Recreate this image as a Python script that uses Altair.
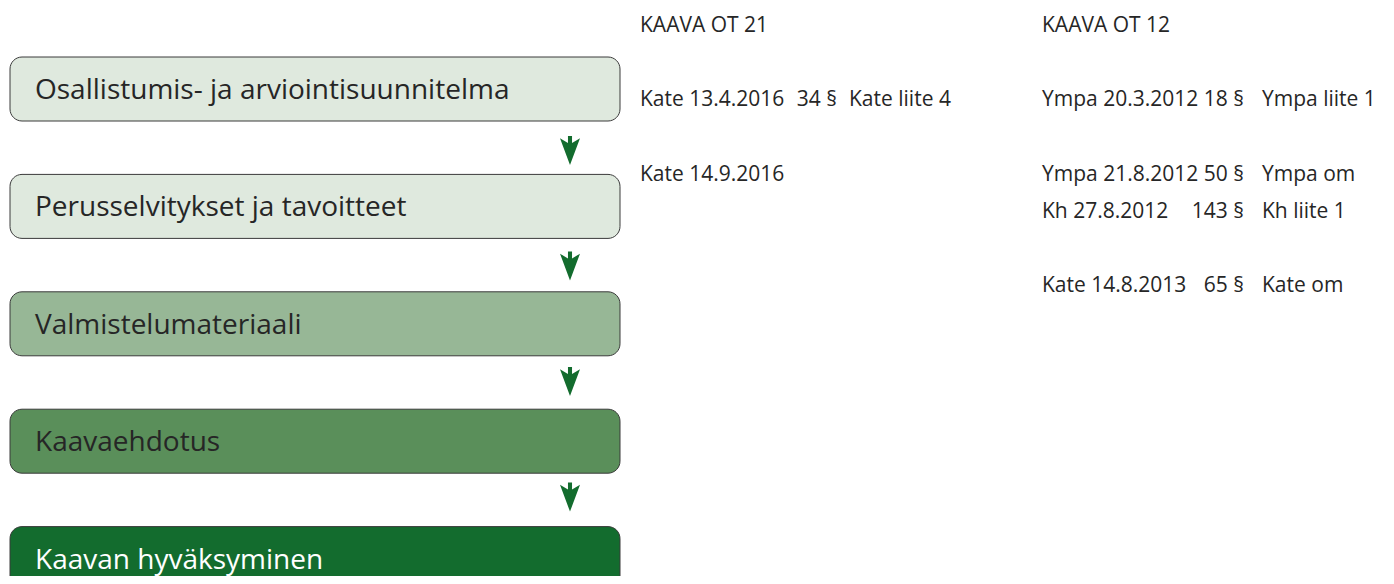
import altair as alt
import pandas as pd

# ---- data -------------------------------------------------------------
steps = [
    "Osallistumis- ja arviointisuunnitelma",
    "Perusselvitykset ja tavoitteet",
    "Valmistelumateriaali",
    "Kaavaehdotus",
    "Kaavan hyväksyminen",
]
step_fills = ["#dfe9de", "#dfe9de", "#97b796", "#5a8f5a", "#136c2e"]
step_text_colors = ["#262626", "#262626", "#262626", "#262626", "#ffffff"]

plans = ["KAAVA OT 21", "KAAVA OT 12"]

entry_plan = ["KAAVA OT 21", "KAAVA OT 21", "KAAVA OT 12", "KAAVA OT 12", "KAAVA OT 12", "KAAVA OT 12"]
entry_line = [2, 4, 2, 4, 5, 7]
entry_meeting = ["Kate 13.4.2016", "Kate 14.9.2016", "Ympa 20.3.2012", "Ympa 21.8.2012", "Kh 27.8.2012", "Kate 14.8.2013"]
entry_section = ["34 §", "", "18 §", "50 §", "143 §", "65 §"]
entry_note = ["Kate liite 4", "", "Ympa liite 1", "Ympa om", "Kh liite 1", "Kate om"]

# ---- tables -----------------------------------------------------------
steps_df = pd.DataFrame({"step": steps, "i": range(len(steps))})
arrows_df = pd.DataFrame({"i": list(range(len(steps) - 1))})
plans_df = pd.DataFrame({"plan": plans, "col": range(len(plans))})
entries_df = pd.DataFrame({
    "plan": entry_plan,
    "line": entry_line,
    "meeting": entry_meeting,
    "section": entry_section,
    "note": entry_note,
})
entries_df["col"] = [plans.index(p) for p in entry_plan]

W, H = 1378, 568
FONT = "Open Sans"
SMALL = 21

xs = alt.Scale(domain=[8, 8 + W])
ys = alt.Scale(domain=[8, 8 + H], reverse=True)
X = lambda f: alt.X(f, type="quantitative", scale=xs, axis=None)
Y = lambda f: alt.Y(f, type="quantitative", scale=ys, axis=None)

base_steps = alt.Chart(steps_df).transform_calculate(
    cy="89 + 117.4 * datum.i",
    y0="89 + 117.4 * datum.i - 32",
    y1="89 + 117.4 * datum.i + 32",
    x0="10",
    x1="620",
    tx="35",
)

boxes = base_steps.mark_rect(
    cornerRadius=12, stroke="#3a3a3a", strokeWidth=1
).encode(
    x=X("x0:Q"), x2="x1:Q", y=Y("y0:Q"), y2="y1:Q",
    color=alt.Color("step:N", scale=alt.Scale(domain=steps, range=step_fills), legend=None),
)

box_text = base_steps.mark_text(
    align="left", baseline="middle", font=FONT, fontSize=28, dy=2
).encode(
    x=X("tx:Q"), y=Y("cy:Q"), text="step:N",
    fill=alt.Fill("step:N", scale=alt.Scale(domain=steps, range=step_text_colors), legend=None),
)

arrow_path = "M0,1 L-0.69,-0.86 L-0.14,-0.52 L-0.14,-1 L0.14,-1 L0.14,-0.52 L0.69,-0.86 Z"
arrows = alt.Chart(arrows_df).transform_calculate(
    ay="150.6 + 115.5 * datum.i", ax="570"
).mark_point(
    shape=arrow_path, filled=True, size=841, color="#136c2e", opacity=1, strokeWidth=0
).encode(x=X("ax:Q"), y=Y("ay:Q"))

headers = alt.Chart(plans_df).transform_calculate(
    hx="640 + 402 * datum.col", hy="24"
).mark_text(
    align="left", baseline="middle", font=FONT, fontSize=SMALL, color="#262626", dy=2
).encode(x=X("hx:Q"), y=Y("hy:Q"), text="plan:N")

base_entries = alt.Chart(entries_df).transform_calculate(
    ey="24 + 37.2 * datum.line",
    mx="640 + 402 * datum.col",
    sx="837 + 407 * datum.col",
    nx="849 + 413 * datum.col",
)
meet = base_entries.mark_text(
    align="left", baseline="middle", font=FONT, fontSize=SMALL, color="#262626", dy=2
).encode(x=X("mx:Q"), y=Y("ey:Q"), text="meeting:N")
sect = base_entries.mark_text(
    align="right", baseline="middle", font=FONT, fontSize=SMALL, color="#262626", dy=2
).encode(x=X("sx:Q"), y=Y("ey:Q"), text="section:N")
note = base_entries.mark_text(
    align="left", baseline="middle", font=FONT, fontSize=SMALL, color="#262626", dy=2
).encode(x=X("nx:Q"), y=Y("ey:Q"), text="note:N")

chart = alt.layer(boxes, box_text, arrows, headers, meet, sect, note).resolve_scale(
    color="independent", fill="independent"
).properties(
    width=W, height=H, padding=0, autosize=alt.AutoSizeParams(type="none"),
    background="#ffffff",
).configure_view(stroke=None)

chart.save("out.html", embed_options={"renderer": "svg", "actions": False})
